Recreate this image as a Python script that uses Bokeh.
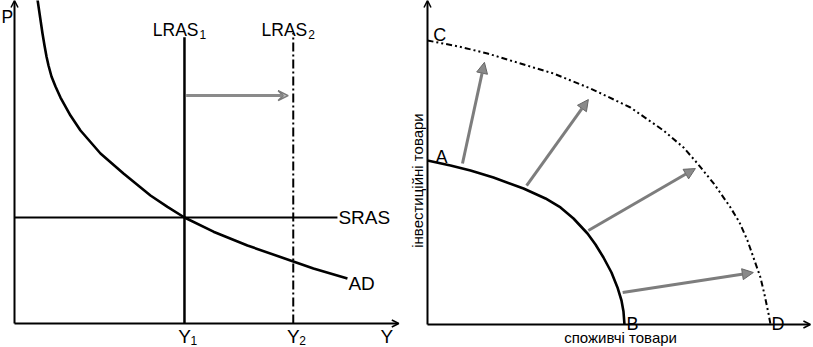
from bokeh.plotting import figure
from bokeh.models import Range1d, Arrow, OpenHead, NormalHead, VeeHead
from bokeh.layouts import row
from bokeh.embed import file_html
from bokeh.resources import INLINE
from bokeh.core.properties import value

FONT = "Liberation Sans"

# ---------------- Left panel data (AD / AS model) ----------------
Y1 = 10.0          # LRAS1 output
Y2 = 16.4          # LRAS2 output
P_SRAS = 5.0       # SRAS price level
SRAS_END = 19.0
LRAS1_TOP = 13.5
LRAS2_TOP = 13.7
SHIFT_P = 10.75
SHIFT_FROM = 10.1
SHIFT_TO = 16.1

ad_y = [1.35, 1.647, 1.765, 1.882, 2.0, 2.176, 2.412, 2.706, 3.294, 3.882, 5.059, 6.412,
        8.0, 9.0, 10.0, 11.706, 13.706, 16.235, 17.588, 19.588]
ad_p = [15.3, 13.679, 13.113, 12.594, 12.17, 11.651, 11.179, 10.66, 9.811, 9.104, 8.019,
        7.075, 6.038, 5.5, 5.0, 4.33, 3.679, 2.972, 2.594, 2.123]

# ---------------- Right panel data (PPF) ----------------
ppf1_x = [0.0, 0.671, 1.254, 1.924, 2.799, 3.44, 3.878, 4.257, 4.665, 4.898, 5.131, 5.364,
          5.539, 5.656, 5.714, 5.743]
ppf1_y = [5.775, 5.599, 5.423, 5.176, 4.789, 4.437, 4.12, 3.732, 3.204, 2.817, 2.359, 1.831,
          1.303, 0.845, 0.458, 0.0]

ppf2_x = [0.0, 0.904, 1.749, 3.09, 3.673, 4.752, 5.918, 6.88, 7.464, 7.872, 8.367, 8.834,
          9.096, 9.329, 9.708, 9.825, 9.942, 10.0]
ppf2_y = [10.0, 9.789, 9.542, 9.049, 8.838, 8.31, 7.641, 6.831, 6.232, 5.669, 4.93, 4.12,
          3.592, 2.958, 1.655, 1.056, 0.387, 0.0]

shift_x0 = [1.02, 2.89, 4.69, 5.69]
shift_y0 = [5.67, 4.89, 3.31, 1.13]
shift_x1 = [1.66, 4.69, 7.81, 9.50]
shift_y1 = [9.23, 7.92, 5.49, 1.83]

x_title = "споживчі товари"
y_title = "інвестиційні товари"


def bare(fig):
    fig.axis.visible = False
    fig.grid.visible = False
    fig.outline_line_color = None
    fig.min_border = 0
    fig.background_fill_color = "white"
    fig.border_fill_color = "white"
    return fig


# ================= LEFT =================
XL = (-0.824, 22.71)
YL = (-1.132, 15.236)
p1 = figure(width=400, height=347, output_backend="svg", toolbar_location=None,
            x_range=Range1d(*XL), y_range=Range1d(*YL))
bare(p1)

# axes
p1.add_layout(Arrow(end=OpenHead(size=7, line_width=1.5), x_start=0, y_start=0,
                    x_end=0, y_end=YL[1], line_width=2, line_color="black"))
p1.add_layout(Arrow(end=OpenHead(size=7, line_width=1.5), x_start=0, y_start=0,
                    x_end=XL[1] - 0.1, y_end=0, line_width=2, line_color="black"))

# LRAS lines
p1.segment(x0=[Y1], y0=[0], x1=[Y1], y1=[LRAS1_TOP], line_width=2.5, line_color="black")
p1.segment(x0=[Y2], y0=[0], x1=[Y2], y1=[LRAS2_TOP], line_width=2, line_color="black",
           line_dash="9 3 2 3")
# SRAS
p1.segment(x0=[0], y0=[P_SRAS], x1=[SRAS_END], y1=[P_SRAS], line_width=2, line_color="black")
# AD
p1.line(ad_y, ad_p, line_width=2.6, line_color="black", line_join="round")
# shift arrow
p1.add_layout(Arrow(end=VeeHead(size=10, line_color="#7a7a7a", fill_color="#bdbdbd", line_width=1.5),
                    x_start=SHIFT_FROM, y_start=SHIFT_P, x_end=SHIFT_TO, y_end=SHIFT_P,
                    line_width=3, line_color="#8a8a8a"))

big = "19px"
mid = "17.5px"
sub = "12px"
p1.text(x=[0], y=[YL[1]], text=["P"], text_font=value(FONT), text_font_size=mid,
        text_align="left", text_baseline="top", x_offset=-13, y_offset=6)
p1.text(x=[Y1, Y2], y=[LRAS2_TOP, LRAS2_TOP], text=["LRAS", "LRAS"], text_font=value(FONT),
        text_font_size=mid, text_align="right", text_baseline="alphabetic", x_offset=14, y_offset=-3)
p1.text(x=[Y1, Y2], y=[LRAS2_TOP, LRAS2_TOP], text=["1", "2"], text_font=value(FONT),
        text_font_size=sub, text_align="left", text_baseline="alphabetic", x_offset=15, y_offset=1)
p1.text(x=[SRAS_END], y=[P_SRAS], text=["SRAS"], text_font=value(FONT), text_font_size=big,
        text_align="left", text_baseline="middle", x_offset=1)
p1.text(x=[ad_y[-1]], y=[ad_p[-1]], text=["AD"], text_font=value(FONT), text_font_size=big,
        text_align="left", text_baseline="top", x_offset=1, y_offset=-5)
p1.text(x=[Y1, Y2, 21.9], y=[0, 0, 0], text=["Y", "Y", "Y"], text_font=value(FONT),
        text_font_size=big, text_align="center", text_baseline="top", y_offset=2)
p1.text(x=[Y1, Y2], y=[0, 0], text=["1", "2"], text_font=value(FONT), text_font_size=sub,
        text_align="left", text_baseline="top", x_offset=6, y_offset=12)

# ================= RIGHT =================
XR = (-0.787, 11.254)
YR = (-0.81, 11.408)
p2 = figure(width=413, height=347, output_backend="svg", toolbar_location=None,
            x_range=Range1d(*XR), y_range=Range1d(*YR))
bare(p2)

p2.add_layout(Arrow(end=OpenHead(size=7, line_width=1.5), x_start=0, y_start=0,
                    x_end=0, y_end=YR[1], line_width=2, line_color="black"))
p2.add_layout(Arrow(end=OpenHead(size=7, line_width=1.5), x_start=0, y_start=0,
                    x_end=XR[1] - 0.09, y_end=0, line_width=2, line_color="black"))

p2.line(ppf1_x, ppf1_y, line_width=2.6, line_color="black", line_join="round")
p2.line(ppf2_x, ppf2_y, line_width=2, line_color="black", line_dash="6 3 2 3 2 3",
        line_join="round")

for xs, ys, xe, ye in zip(shift_x0, shift_y0, shift_x1, shift_y1):
    p2.add_layout(Arrow(end=NormalHead(size=11, line_color="#666666", fill_color="#8a8a8a",
                                       line_width=1),
                        x_start=xs, y_start=ys, x_end=xe, y_end=ye,
                        line_width=3, line_color="#7d7d7d"))

p2.text(x=[0.17, 0.23, 5.8, 10.03], y=[10.18, 5.88, 0.03, 0.03], text=["C", "A", "B", "D"],
        text_font=value(FONT), text_font_size="18px", text_align="left",
        text_baseline="alphabetic")
p2.text(x=[5.63], y=[0], text=[x_title], text_font=value(FONT), text_font_size="15px",
        text_align="center", text_baseline="top", y_offset=5)
p2.text(x=[0], y=[5.07], text=[y_title], text_font=value(FONT), text_font_size="15px",
        text_align="center", text_baseline="bottom", angle=1.5708, x_offset=-1)

layout = row(p1, p2, spacing=0)
open("out.html", "w").write(file_html(layout, INLINE))
